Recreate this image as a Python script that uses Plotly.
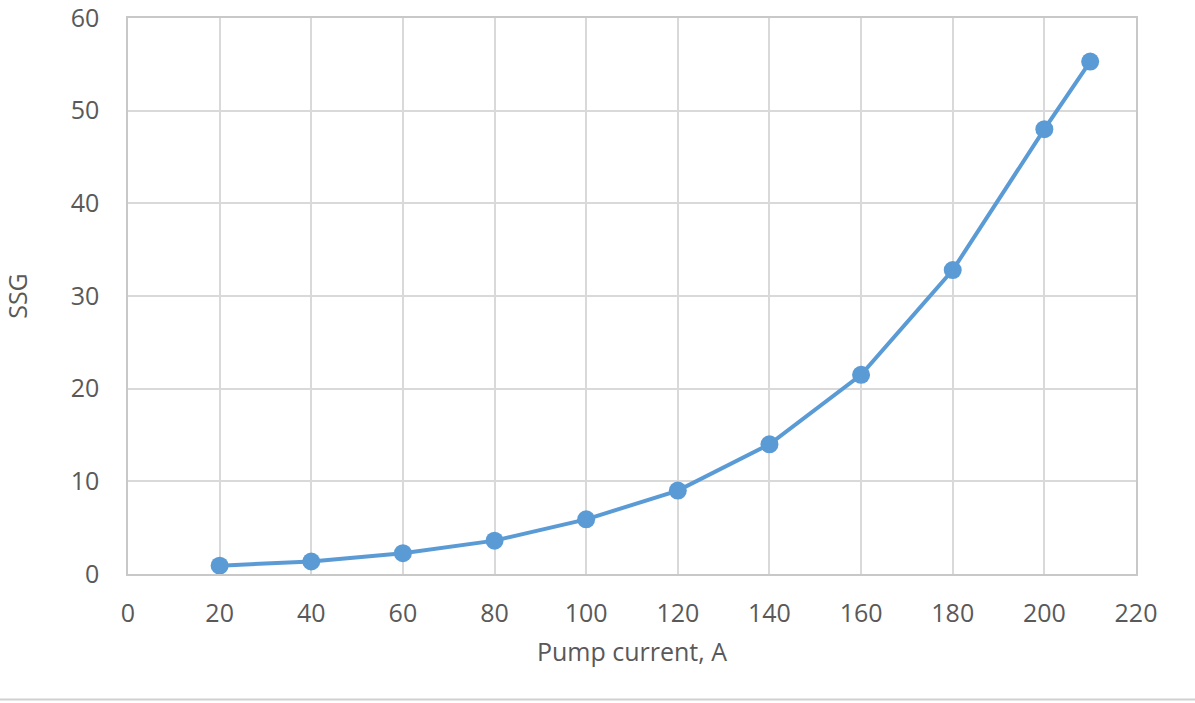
import plotly.graph_objects as go

pump_current = [20, 40, 60, 80, 100, 120, 140, 160, 180, 200, 210]
ssg = [0.9, 1.35, 2.25, 3.6, 5.9, 9.0, 14.0, 21.5, 32.8, 48.0, 55.3]
x_ticks = [0, 20, 40, 60, 80, 100, 120, 140, 160, 180, 200, 220]
y_ticks = [0, 10, 20, 30, 40, 50, 60]

font_color = "#595959"
grid_color = "#D9D9D9"
font_family = "Open Sans, Liberation Sans, sans-serif"

W, H = 1195, 703
L, R, T, B = 128, 59, 18, 128.5
PW, PH = W - L - R, H - T - B

fig = go.Figure()
fig.add_trace(go.Scatter(
    x=pump_current, y=ssg, mode="lines+markers",
    line=dict(color="#5B9BD5", width=4),
    marker=dict(color="#5B9BD5", size=18),
    showlegend=False, cliponaxis=False,
))

fig.update_layout(
    width=W, height=H,
    margin=dict(l=L, r=R, t=T, b=B, autoexpand=False),
    paper_bgcolor="white", plot_bgcolor="white",
    font=dict(family=font_family, color=font_color, size=25),
    xaxis=dict(
        range=[0, 220], tickvals=x_ticks, ticktext=[str(v) for v in x_ticks],
        showgrid=True, gridcolor=grid_color, gridwidth=1.5,
        showline=True, linecolor="#C8C8C8", linewidth=1.5, mirror=True,
        zeroline=False, ticks="", ticklabelstandoff=16, ticklabeloverflow="allow",
        title=dict(text="Pump current, A", font=dict(size=25, color=font_color), standoff=16),
    ),
    yaxis=dict(
        range=[0, 60], tickvals=y_ticks, ticktext=[str(v) for v in y_ticks],
        showgrid=True, gridcolor=grid_color, gridwidth=1.5,
        showline=True, linecolor="#C8C8C8", linewidth=1.5, mirror=True,
        zeroline=False, ticks="", ticklabelstandoff=22, ticklabeloverflow="allow",
        title=dict(text="SSG", font=dict(size=25, color=font_color), standoff=52),
    ),
)

# thin gray border line at bottom of the image
fig.add_shape(type="line", xref="paper", yref="paper",
              x0=-L / PW, x1=(W - L) / PW, y0=-(B - 3) / PH, y1=-(B - 3) / PH,
              line=dict(color="#D0D0D0", width=2))

fig.write_html(
    "out.html",
    config={"displayModeBar": False},
    post_script="document.body.style.margin='0';document.body.style.overflow='hidden';",
)
